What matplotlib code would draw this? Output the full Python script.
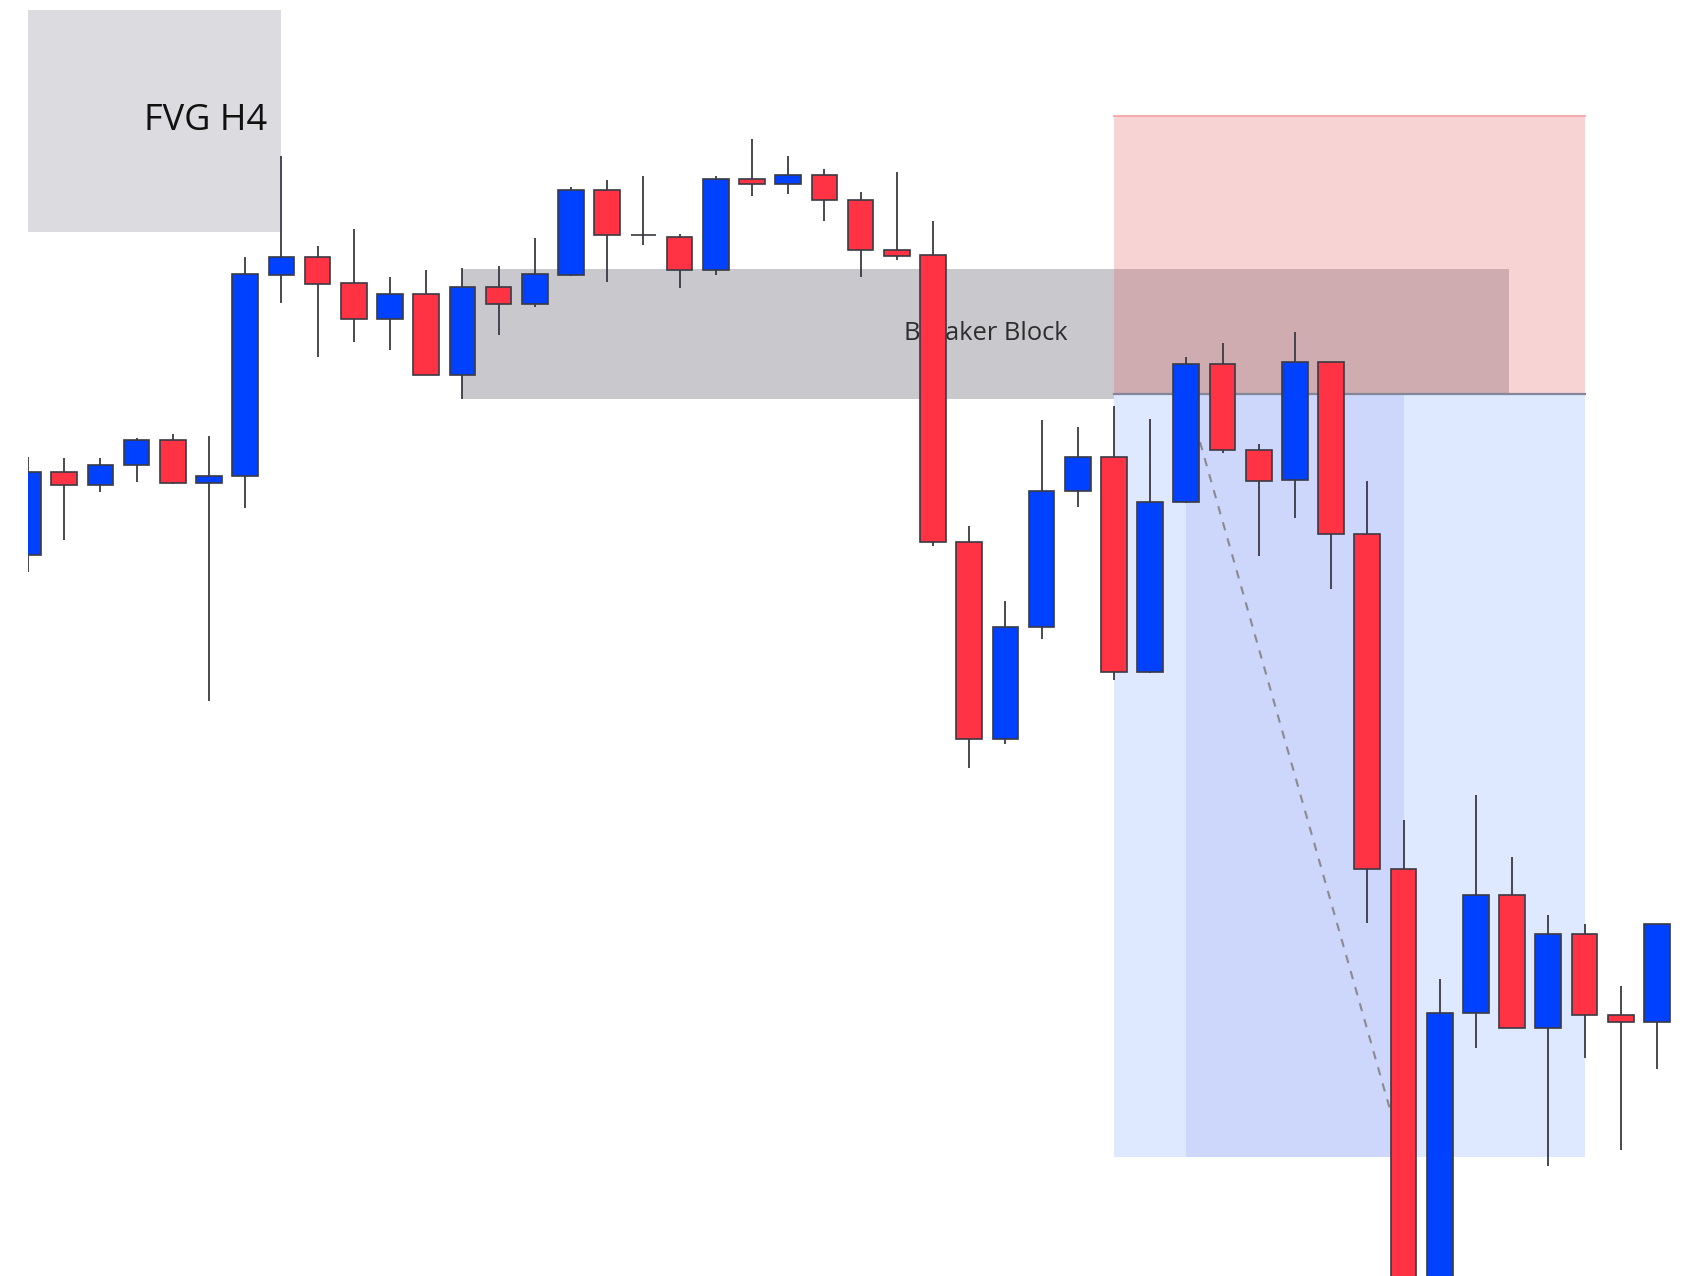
import matplotlib
matplotlib.use("Agg")
import matplotlib.pyplot as plt
from matplotlib.patches import Rectangle

# ---- data (price units) ----
opens  = [1445, 1528, 1515, 1535, 1560, 1517, 1524, 1725, 1743, 1717,
          1681, 1706, 1625, 1713, 1696, 1725, 1810, 1765, 1763, 1730,
          1821, 1816, 1825, 1800, 1750, 1745, 1458, 1261, 1373, 1509,
          1543, 1328, 1498, 1636, 1550, 1520, 1638, 1466, 1131, 670,
          987, 1105, 972, 1066, 985, 978]
highs  = [1543, 1542, 1542, 1562, 1566, 1564, 1743, 1844, 1754, 1771,
          1723, 1730, 1732, 1734, 1762, 1813, 1820, 1824, 1766, 1824,
          1861, 1844, 1831, 1808, 1828, 1779, 1474, 1399, 1580, 1573,
          1594, 1581, 1643, 1657, 1556, 1668, 1638, 1519, 1180, 1021,
          1205, 1143, 1085, 1076, 1014, 1076]
lows   = [1428, 1460, 1508, 1518, 1516, 1299, 1492, 1697, 1643, 1658,
          1650, 1625, 1601, 1665, 1693, 1724, 1718, 1755, 1712, 1725,
          1804, 1806, 1779, 1723, 1740, 1454, 1232, 1256, 1361, 1493,
          1320, 1327, 1497, 1547, 1444, 1482, 1411, 1077, 650, 655,
          952, 972, 834, 942, 850, 931]
closes = [1528, 1515, 1535, 1560, 1517, 1524, 1726, 1743, 1716, 1681,
          1706, 1625, 1713, 1696, 1726, 1810, 1765, 1765, 1730, 1821,
          1816, 1825, 1800, 1750, 1744, 1458, 1261, 1373, 1509, 1543,
          1328, 1498, 1636, 1550, 1519, 1638, 1466, 1131, 670, 987,
          1105, 972, 1066, 985, 978, 1076]

fvg_label = "FVG H4"
fvg_start, fvg_end = -1, 7
fvg_top, fvg_bottom = 1990, 1768

breaker_label = "Breaker Block"
breaker_start, breaker_end = 12, 40.9
breaker_top, breaker_bottom = 1731, 1601

pos_start, pos_end = 30, 43
pos_inner_start, pos_inner_end = 32, 38
stop_price, entry_price, target_price = 1884, 1606, 843

# ---- styling ----
UP = "#0040FF"
DOWN = "#FF3344"
EDGE = "#3A3A44"

fig = plt.figure(figsize=(17, 12.76), dpi=100)
ax = fig.add_axes([28 / 1700, 0, 1 - 28 / 1700, 1])
ax.set_xlim(0, 46.19)
ax.set_ylim(724, 2000)
ax.axis("off")

# FVG zone
ax.add_patch(Rectangle((fvg_start, fvg_bottom), fvg_end - fvg_start, fvg_top - fvg_bottom,
                       facecolor="#DCDCE0", edgecolor="none", zorder=1))
ax.text(fvg_end - 0.39, (fvg_top + fvg_bottom) / 2, fvg_label, ha="right", va="center",
        fontsize=26, color="#111111", family=["Open Sans", "DejaVu Sans"], zorder=1.5)

# Breaker block
ax.add_patch(Rectangle((breaker_start, breaker_bottom), breaker_end - breaker_start,
                       breaker_top - breaker_bottom,
                       facecolor="#C8C8CD", edgecolor="none", zorder=1))
ax.text((breaker_start + breaker_end) / 2, (breaker_top + breaker_bottom) / 2, breaker_label,
        ha="center", va="center", fontsize=18.4, color="#2E2E2E",
        family=["Open Sans", "DejaVu Sans"], zorder=1.5)

# Position tool: target (blue) zone
ax.add_patch(Rectangle((pos_start, target_price), pos_end - pos_start, entry_price - target_price,
                       facecolor="#DEE8FE", edgecolor="none", zorder=1.2))
ax.add_patch(Rectangle((pos_inner_start, target_price), pos_inner_end - pos_inner_start,
                       entry_price - target_price,
                       facecolor="#CDD6FB", edgecolor="none", zorder=1.3))
# stop (red) zone, semi-transparent over the breaker block
ax.add_patch(Rectangle((pos_start, entry_price), pos_end - pos_start, stop_price - entry_price,
                       facecolor=(228 / 255, 100 / 255, 100 / 255), alpha=0.28,
                       edgecolor="none", zorder=1.4))
ax.plot([pos_start, pos_end], [stop_price, stop_price], color="#F2A6AA", lw=1.3, zorder=1.45)
ax.plot([pos_start, pos_end], [entry_price, entry_price], color="#82879A", lw=1.6, zorder=1.6)
ax.plot([pos_inner_start, pos_inner_end], [entry_price, target_price], color="#8A8A90",
        lw=1.5, ls=(0, (4, 4)), zorder=1.7)

# candles
body_w = 0.71
for i, (o, h, l, c) in enumerate(zip(opens, highs, lows, closes)):
    col = UP if c >= o else DOWN
    ax.vlines(i, l, h, color=EDGE, lw=1.3, zorder=2.9)
    ax.add_patch(Rectangle((i - body_w / 2, min(o, c)), body_w, abs(c - o),
                           facecolor=col, edgecolor=EDGE, lw=1.2, zorder=3))

fig.savefig("out.png", dpi=100)
